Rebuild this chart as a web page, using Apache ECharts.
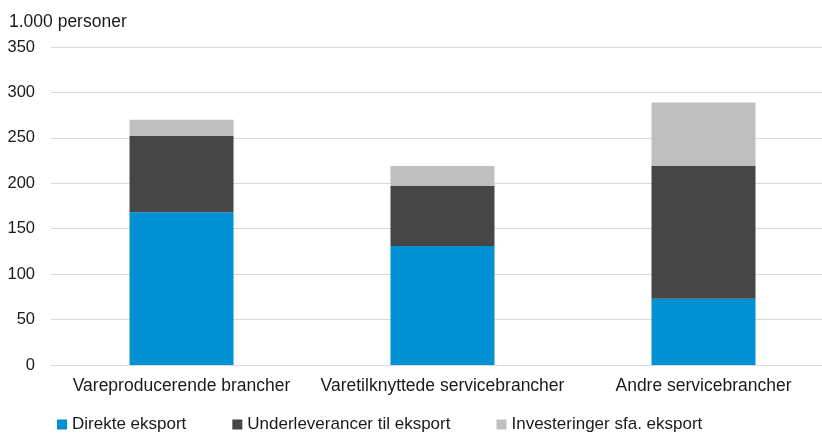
<!DOCTYPE html>
<html>
<head>
<meta charset="utf-8">
<script src="https://cdn.jsdelivr.net/npm/echarts@6/dist/echarts.min.js"></script>
<style>html,body{margin:0;padding:0;background:#fff;overflow:hidden;}#c{width:840px;height:433px;}</style>
</head>
<body>
<div id="c"></div>
<script>
var categories = ['Vareproducerende brancher', 'Varetilknyttede servicebrancher', 'Andre servicebrancher'];
var direkteEksport = [168, 131, 73];
var underleverancer = [84, 66, 146];
var investeringer = [18, 22, 70];
var seriesNames = ['Direkte eksport', 'Underleverancer til eksport', 'Investeringer sfa. eksport'];
var yTicks = { min: 0, max: 350, interval: 50 };
var unitLabel = '1.000 personer';

var font = 'Liberation Sans, Arial, sans-serif';
var chart = echarts.init(document.getElementById('c'));
chart.setOption({
  animation: false,
  backgroundColor: '#ffffff',
  textStyle: { fontFamily: font },
  title: {
    text: unitLabel, left: 4, top: 8,
    textStyle: { fontFamily: font, fontSize: 17.5, fontWeight: 'normal', color: '#1a1a1a' }
  },
  grid: { left: 51, top: 47, width: 783, height: 318, outerBoundsMode: 'none', containLabel: false },
  legend: {
    data: seriesNames,
    left: 52, top: 411,
    itemWidth: 10, itemHeight: 10, itemGap: 46,
    icon: 'rect',
    textStyle: { fontFamily: font, fontSize: 17, color: '#1a1a1a' }
  },
  xAxis: {
    type: 'category', data: categories,
    axisLine: { lineStyle: { color: '#d9d9d9', width: 1 } },
    axisTick: { show: false },
    axisLabel: { fontFamily: font, fontSize: 17.5, color: '#1a1a1a', margin: 12, interval: 0 }
  },
  yAxis: {
    type: 'value', min: yTicks.min, max: yTicks.max, interval: yTicks.interval,
    axisLine: { show: false }, axisTick: { show: false },
    splitLine: { lineStyle: { color: '#d9d9d9', width: 1 } },
    axisLabel: { fontFamily: font, fontSize: 16.5, color: '#1a1a1a', margin: 16 }
  },
  series: [
    { name: seriesNames[0], type: 'bar', stack: 'a', data: direkteEksport, barWidth: 104, itemStyle: { color: '#0091d5' } },
    { name: seriesNames[1], type: 'bar', stack: 'a', data: underleverancer, barWidth: 104, itemStyle: { color: '#464646' } },
    { name: seriesNames[2], type: 'bar', stack: 'a', data: investeringer, barWidth: 104, itemStyle: { color: '#bfbfbf' } }
  ]
});
</script>
</body>
</html>
